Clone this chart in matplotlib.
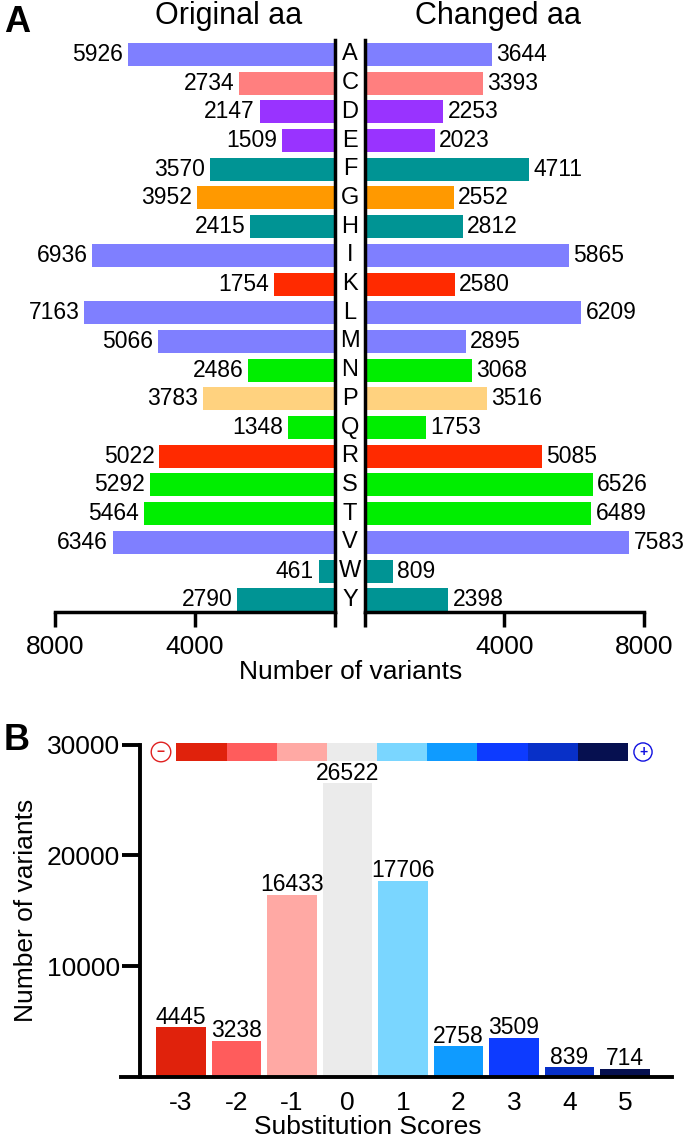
import matplotlib
matplotlib.use("Agg")
import matplotlib.pyplot as plt
from matplotlib.transforms import blended_transform_factory

plt.rcParams['font.family'] = ['Liberation Sans', 'DejaVu Sans']

# panel A data
residues = ['A', 'C', 'D', 'E', 'F', 'G', 'H', 'I', 'K', 'L',
            'M', 'N', 'P', 'Q', 'R', 'S', 'T', 'V', 'W', 'Y']
original_counts = [5926, 2734, 2147, 1509, 3570, 3952, 2415, 6936, 1754, 7163,
                   5066, 2486, 3783, 1348, 5022, 5292, 5464, 6346, 461, 2790]
changed_counts = [3644, 3393, 2253, 2023, 4711, 2552, 2812, 5865, 2580, 6209,
                  2895, 3068, 3516, 1753, 5085, 6526, 6489, 7583, 809, 2398]
group_colors = {
    'hydrophobic': '#7F7FFF', 'cys': '#FF7F7F', 'acidic': '#9933FF',
    'aromatic': '#009494', 'gly': '#FF9900', 'basic': '#FF2A00',
    'polar': '#00EE00', 'pro': '#FFD27F',
}
residue_groups = ['hydrophobic', 'cys', 'acidic', 'acidic', 'aromatic', 'gly',
                  'aromatic', 'hydrophobic', 'basic', 'hydrophobic',
                  'hydrophobic', 'polar', 'pro', 'polar', 'basic', 'polar',
                  'polar', 'hydrophobic', 'aromatic', 'aromatic']

# panel B data
scores = ['-3', '-2', '-1', '0', '1', '2', '3', '4', '5']
score_counts = [4445, 3238, 16433, 26522, 17706, 2758, 3509, 839, 714]
score_colors = ['#E0220C', '#FF5C5C', '#FFA9A4', '#EBEBEB', '#7AD6FF',
                '#0F9BFF', '#0D3BFF', '#0830C8', '#061050']

W, H = 685, 1139
fig = plt.figure(figsize=(W / 100, H / 100), dpi=100)


def rect(x0, y0, x1, y1):
    # pixel box (top-left origin) -> figure fraction
    return [x0 / W, 1 - y1 / H, (x1 - x0) / W, (y1 - y0) / H]


lw = 2.5
rows = list(range(len(residues)))
colors_a = [group_colors[g] for g in residue_groups]

axL = fig.add_axes(rect(55, 40, 335, 611.5))
axR = fig.add_axes(rect(364.5, 40, 644, 611.5))

axL.barh(rows, original_counts, height=0.8, color=colors_a)
axR.barh(rows, changed_counts, height=0.8, color=colors_a)
for i, v in enumerate(original_counts):
    axL.annotate(str(v), (v, i), xytext=(-3.5, 0), textcoords='offset points',
                 ha='right', va='center', fontsize=16.5)
for i, v in enumerate(changed_counts):
    axR.annotate(str(v), (v, i), xytext=(3, 0), textcoords='offset points',
                 ha='left', va='center', fontsize=16.5)

for ax in (axL, axR):
    ax.set_ylim(19.41, -0.505)
    ax.set_yticks([])
    ax.spines['top'].set_visible(False)
    for s in ax.spines.values():
        s.set_linewidth(lw)
    ax.set_xticks([0, 4000, 8000])
    ax.set_xticklabels(['', '4000', '8000'])
    ax.tick_params(axis='x', direction='out', length=11, width=lw,
                   labelsize=19, pad=6)
    ax.patch.set_visible(False)

axL.set_xlim(8000, 0)
axL.spines['left'].set_visible(False)
axR.set_xlim(0, 8000)
axR.spines['right'].set_visible(False)

trans = blended_transform_factory(fig.transFigure, axL.transData)
for i, r in enumerate(residues):
    fig.text(350 / W, i, r, transform=trans, ha='center', va='center',
             fontsize=17)

fig.text(229 / W, 1 - 16 / H, 'Original aa', ha='center', va='center', fontsize=22)
fig.text(498 / W, 1 - 16 / H, 'Changed aa', ha='center', va='center', fontsize=22)
fig.text(351 / W, 1 - 672 / H, 'Number of variants', ha='center', va='center',
         fontsize=19)
fig.text(4 / W, 1 - 22 / H, 'A', ha='left', va='center', fontsize=26,
         fontweight='bold')

# panel B
axB = fig.add_axes(rect(120.8, 744.6, 672, 1076.7))
x = list(range(len(scores)))
axB.bar(x, score_counts, width=0.89, color=score_colors)
for i, v in enumerate(score_counts):
    axB.annotate(str(v), (i, v), xytext=(0, 2.5), textcoords='offset points',
                 ha='center', va='baseline', fontsize=16.5)
axB.set_xlim(-1.085, 8.85)
axB.set_ylim(0, 30000)
axB.spines['top'].set_visible(False)
axB.spines['right'].set_visible(False)
axB.spines['left'].set_position(('data', -0.744))
for s in axB.spines.values():
    s.set_linewidth(2.8)
axB.set_xticks(x)
axB.set_xticklabels(scores)
axB.set_yticks([10000, 20000, 30000])
axB.tick_params(axis='x', length=0, labelsize=19, pad=10)
axB.tick_params(axis='y', direction='out', length=13, width=2.8,
                labelsize=19, pad=1)
fig.text(368 / W, 1 - 1134 / H, 'Substitution Scores', ha='center',
         va='baseline', fontsize=19)
fig.text(26 / W, 1 - 910 / H, 'Number of variants', rotation=90,
         ha='center', va='center', fontsize=19)
fig.text(4 / W, 1 - 740 / H, 'B', ha='left', va='center', fontsize=26,
         fontweight='bold')

# score colour key
axK = fig.add_axes(rect(176.5, 742.7, 628, 760.7))
axK.bar(x, [1] * len(x), width=1.0, color=score_colors)
axK.set_xlim(-0.5, 8.5)
axK.set_ylim(0, 1)
axK.axis('off')
fig.text(161 / W, 1 - 752 / H, '\u2212', color='#E02020', ha='center',
         va='center', fontsize=10, fontweight='bold',
         bbox=dict(boxstyle='circle,pad=0.2', fc='white', ec='#E02020', lw=1))
fig.text(643 / W, 1 - 752 / H, '+', color='#1010E0', ha='center',
         va='center', fontsize=10, fontweight='bold',
         bbox=dict(boxstyle='circle,pad=0.15', fc='white', ec='#1010E0', lw=1))

fig.savefig('out.png', dpi=100)
